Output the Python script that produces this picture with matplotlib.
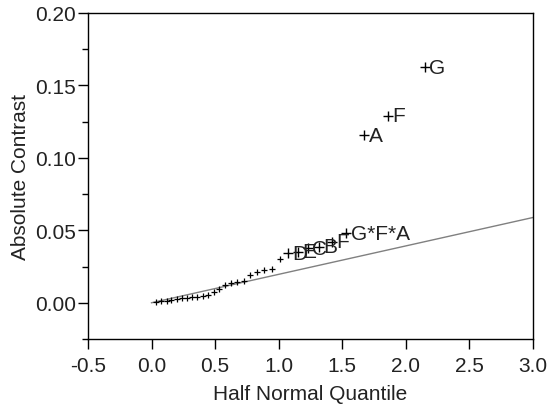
import numpy as np
import matplotlib
matplotlib.use('Agg')
import matplotlib.pyplot as plt
from matplotlib.ticker import MultipleLocator, FormatStrFormatter

plt.rcParams['font.family'] = ['Liberation Sans', 'DejaVu Sans']

# half normal quantiles of the 31 ordered contrasts
quantile = [0.039, 0.078, 0.118, 0.157, 0.197, 0.237, 0.278, 0.319, 0.360, 0.402,
            0.445, 0.489, 0.533, 0.579, 0.626, 0.675, 0.725, 0.776, 0.831, 0.887,
            0.946, 1.010, 1.078, 1.150, 1.230, 1.318, 1.418, 1.534, 1.676, 1.863,
            2.154]
# absolute contrasts
contrast = [0.0008, 0.0010, 0.0013, 0.0018, 0.0024, 0.0030, 0.0034, 0.0037, 0.0040, 0.0047,
            0.0057, 0.0074, 0.0092, 0.0120, 0.0136, 0.0143, 0.0150, 0.0195, 0.0212, 0.0223,
            0.0234, 0.0303, 0.0340, 0.0352, 0.0375, 0.0385, 0.0420, 0.0478, 0.1155, 0.1290,
            0.1625]
labels = ['', '', '', '', '', '', '', '', '', '',
          '', '', '', '', '', '', '', '', '', '',
          '', '', 'D', 'E', 'C', 'B', 'F', 'G*F*A', 'A', 'F',
          'G']

# reference line (slope = pseudo standard error)
line_x = [0.0, 3.0]
line_y = [0.0, 0.0588]

fig = plt.figure(figsize=(5.48, 4.06), dpi=100)
ax = fig.add_axes([0.1606, 0.1626, 0.8114, 0.803])

ax.plot(line_x, line_y, color='#808080', lw=1.0, zorder=1)

q = np.array(quantile)
c = np.array(contrast)
lab = np.array([l != '' for l in labels])
ax.plot(q[~lab], c[~lab], '+', color='black', ms=4, mew=0.9, zorder=2)
ax.plot(q[lab], c[lab], '+', color='black', ms=7, mew=1.0, zorder=2)
for xi, yi, t in zip(quantile, contrast, labels):
    if t:
        ax.annotate(t, (xi, yi), xytext=(3, 0), textcoords='offset points',
                    va='center', ha='left', fontsize=15, color='#222222')

ax.set_xlim(-0.5, 3.0)
ax.set_ylim(-0.025, 0.20)
ax.xaxis.set_major_locator(MultipleLocator(0.5))
ax.yaxis.set_major_locator(MultipleLocator(0.05))
ax.yaxis.set_minor_locator(MultipleLocator(0.025))
ax.xaxis.set_major_formatter(FormatStrFormatter('%.1f'))
ax.yaxis.set_major_formatter(FormatStrFormatter('%.2f'))
ax.tick_params(which='major', direction='out', length=7, width=1, labelsize=15,
               colors='black', labelcolor='#222222')
ax.tick_params(axis='y', which='major', pad=1.5)
ax.tick_params(axis='x', which='major', pad=5)
ax.tick_params(which='minor', direction='out', length=4.5, width=1)
for s in ax.spines.values():
    s.set_linewidth(1.0)

ax.set_xlabel('Half Normal Quantile', fontsize=15, color='#222222', labelpad=7)
ax.set_ylabel('Absolute Contrast', fontsize=15, color='#222222', labelpad=4)

fig.savefig('out.png', dpi=100)
